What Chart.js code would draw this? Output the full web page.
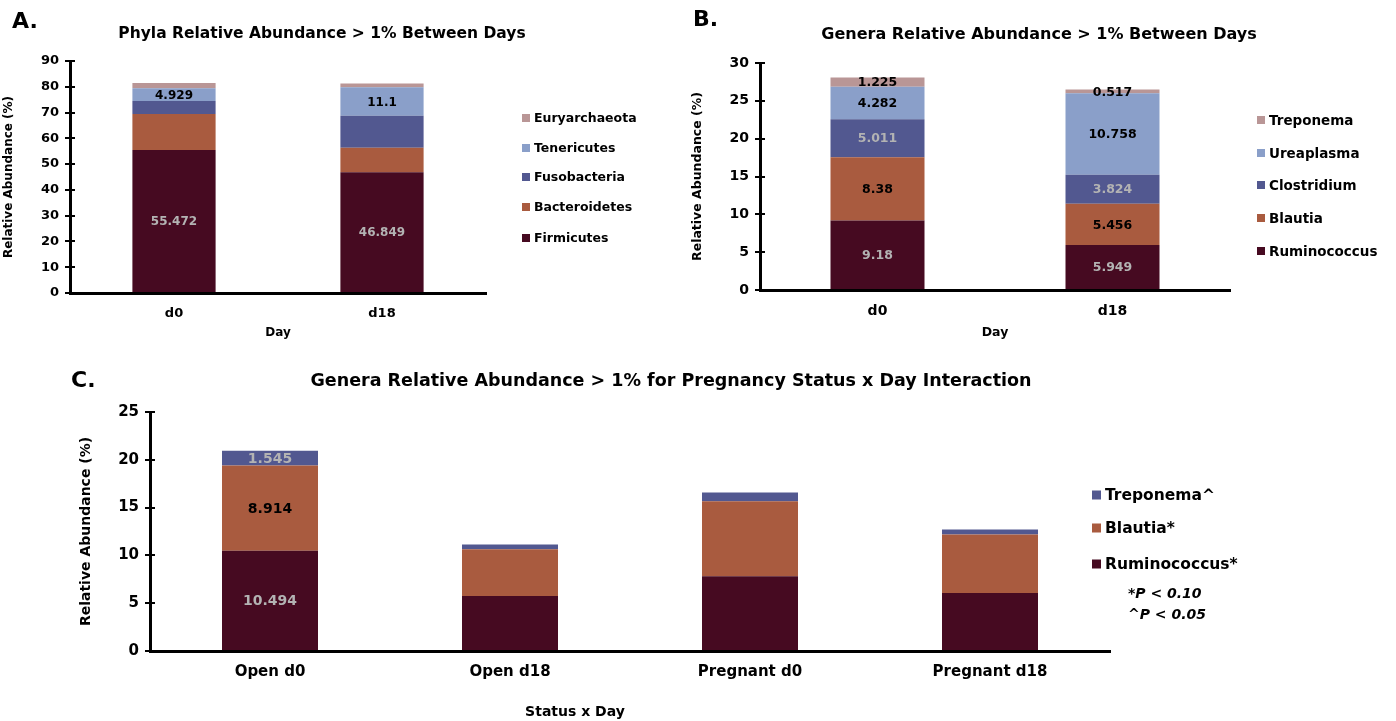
<!DOCTYPE html>
<html>
<head>
<meta charset="utf-8">
<script src="https://cdn.jsdelivr.net/npm/chart.js@4.4.1/dist/chart.umd.min.js"></script>
<style>
  body { margin: 0; background: #fff; width: 1396px; height: 721px; overflow: hidden; position: relative; }
  canvas { position: absolute; }
</style>
</head>
<body>
<canvas id="chart-a" width="690" height="345" style="left:0;top:0"></canvas>
<canvas id="chart-b" width="706" height="345" style="left:690px;top:0"></canvas>
<canvas id="chart-c" width="1396" height="376" style="left:0;top:345px"></canvas>
<script>
// panel A - phyla
const days = ['d0', 'd18'];
const firmicutes = [55.472, 46.849];
const bacteroidetes = [14.0, 9.5];
const fusobacteria = [5.0, 12.4];
const tenericutes = [4.929, 11.1];
const euryarchaeota = [2.1, 1.4];

// panel B - genera
const ruminococcusB = [9.18, 5.949];
const blautiaB = [8.38, 5.456];
const clostridiumB = [5.011, 3.824];
const ureaplasmaB = [4.282, 10.758];
const treponemaB = [1.225, 0.517];

// panel C - status x day
const statusDay = ['Open d0', 'Open d18', 'Pregnant d0', 'Pregnant d18'];
const ruminococcusC = [10.494, 5.75, 7.81, 6.07];
const blautiaC = [8.914, 4.89, 7.85, 6.11];
const treponemaC = [1.545, 0.49, 0.91, 0.52];

const ticksA = [0, 90, 10];
const ticksB = [0, 30, 5];
const ticksC = [0, 25, 5];

const MAROON = '#460a21';
const RUST = '#a95b3f';
const SLATE = '#525890';
const SKY = '#8a9fc9';
const MAUVE = '#b99696';
const GREY = '#b3b3b3';
const FONT = "'DejaVu Sans', sans-serif";

// draws the value inside each bar segment that has a label colour
const segmentLabels = {
  id: 'segmentLabels',
  afterDatasetsDraw(chart) {
    const ctx = chart.ctx;
    const size = chart.options.plugins.segmentLabels.size;
    ctx.save();
    ctx.font = 'bold ' + size + 'px ' + FONT;
    ctx.textAlign = 'center';
    ctx.textBaseline = 'middle';
    chart.data.datasets.forEach((ds, i) => {
      if (!ds.labelColors) return;
      const meta = chart.getDatasetMeta(i);
      meta.data.forEach((bar, j) => {
        const col = ds.labelColors[j];
        if (!col) return;
        ctx.fillStyle = col;
        ctx.fillText(String(ds.data[j]), bar.x, (bar.y + bar.base) / 2 + 1);
      });
    });
    ctx.restore();
  }
};

// panel letter, title, legend and notes
const overlay = {
  id: 'overlay',
  afterDraw(chart) {
    const o = chart.options.plugins.overlay;
    const ctx = chart.ctx;
    ctx.save();
    ctx.fillStyle = '#000';
    ctx.textBaseline = 'middle';
    ctx.textAlign = 'left';
    ctx.font = 'bold ' + o.letter.size + 'px ' + FONT;
    ctx.fillText(o.letter.text, o.letter.x, o.letter.y);
    ctx.textAlign = 'center';
    ctx.font = 'bold ' + o.title.size + 'px ' + FONT;
    ctx.fillText(o.title.text, o.title.x, o.title.y);

    const lg = o.legend;
    ctx.textAlign = 'left';
    ctx.font = 'bold ' + lg.size + 'px ' + FONT;
    const sets = chart.data.datasets.slice().reverse();
    sets.forEach((ds, k) => {
      const y = lg.ys[k];
      ctx.fillStyle = ds.backgroundColor;
      ctx.fillRect(lg.x, y - lg.box / 2, lg.box, lg.box);
      ctx.fillStyle = '#000';
      ctx.fillText(ds.label, lg.x + lg.box + 4, y + 1);
    });

    (o.texts || []).forEach(t => {
      ctx.font = t.font + ' ' + t.size + 'px ' + FONT;
      ctx.textAlign = t.align || 'left';
      ctx.fillText(t.text, t.x, t.y);
    });

    // short tick stubs on the inner side of the y axis, like the original
    const ys = chart.scales.y;
    ctx.strokeStyle = '#000';
    ctx.lineWidth = 2;
    ys.ticks.forEach(t => {
      const py = Math.round(ys.getPixelForValue(t.value));
      ctx.beginPath();
      ctx.moveTo(ys.right, py);
      ctx.lineTo(ys.right + 5, py);
      ctx.stroke();
    });
    ctx.restore();
  }
};

function makeScales(yTicks, yWidth, xHeight, tickSize, titleSize, yTitlePad, xTitle, xTitlePad, xPad) {
  return {
    x: {
      stacked: true,
      grid: { display: false },
      border: { display: true, color: '#000', width: 3 },
      ticks: { color: '#000', padding: xPad, font: { family: FONT, size: tickSize, weight: 'bold' } },
      title: {
        display: !!xTitle, text: xTitle, color: '#000', padding: { top: 0, bottom: xTitlePad },
        font: { family: FONT, size: titleSize, weight: 'bold' }
      },
      afterFit: s => { s.height = xHeight; }
    },
    y: {
      stacked: true,
      min: yTicks[0], max: yTicks[1],
      grid: { drawOnChartArea: false, color: '#000', lineWidth: 2, tickLength: 5 },
      border: { display: true, color: '#000', width: 3 },
      ticks: {
        stepSize: yTicks[2], color: '#000', padding: 6,
        font: { family: FONT, size: tickSize, weight: 'bold' }
      },
      title: {
        display: true, text: 'Relative Abundance (%)', color: '#000',
        padding: { top: yTitlePad, bottom: 0 },
        font: { family: FONT, size: titleSize, weight: 'bold' }
      },
      afterFit: s => { s.width = yWidth; }
    }
  };
}

function series(label, data, color, labelColors) {
  return {
    label, data, backgroundColor: color, labelColors,
    barPercentage: 0.4, categoryPercentage: 1, borderWidth: 0
  };
}

new Chart(document.getElementById('chart-a'), {
  type: 'bar',
  data: {
    labels: days,
    datasets: [
      series('Firmicutes', firmicutes, MAROON, [GREY, GREY]),
      series('Bacteroidetes', bacteroidetes, RUST),
      series('Fusobacteria', fusobacteria, SLATE),
      series('Tenericutes', tenericutes, SKY, ['#000', '#000']),
      series('Euryarchaeota', euryarchaeota, MAUVE)
    ]
  },
  options: {
    responsive: false,
    animation: false,
    layout: { padding: { left: 0, top: 61, right: 204, bottom: 0 } },
    scales: makeScales(ticksA, 70, 52, 13, 12, 2, 'Day', 5, 5),
    plugins: {
      legend: { display: false },
      tooltip: { enabled: false },
      segmentLabels: { size: 12 },
      overlay: {
        letter: { text: 'A.', x: 12, y: 22, size: 22 },
        title: { text: 'Phyla Relative Abundance > 1% Between Days', x: 322, y: 34, size: 15.5 },
        legend: { x: 522, box: 8, size: 12.5, ys: [118, 148, 177, 207, 238] }
      }
    }
  },
  plugins: [segmentLabels, overlay]
});

new Chart(document.getElementById('chart-b'), {
  type: 'bar',
  data: {
    labels: days,
    datasets: [
      series('Ruminococcus', ruminococcusB, MAROON, [GREY, GREY]),
      series('Blautia', blautiaB, RUST, ['#000', '#000']),
      series('Clostridium', clostridiumB, SLATE, [GREY, GREY]),
      series('Ureaplasma', ureaplasmaB, SKY, ['#000', '#000']),
      series('Treponema', treponemaB, MAUVE, ['#000', '#000'])
    ]
  },
  options: {
    responsive: false,
    animation: false,
    layout: { padding: { left: 0, top: 63, right: 166, bottom: 0 } },
    scales: makeScales(ticksB, 70, 55, 14, 12.5, 0, 'Day', 5, 5),
    plugins: {
      legend: { display: false },
      tooltip: { enabled: false },
      segmentLabels: { size: 12.5 },
      overlay: {
        letter: { text: 'B.', x: 3, y: 20, size: 22 },
        title: { text: 'Genera Relative Abundance > 1% Between Days', x: 349, y: 35, size: 16 },
        legend: { x: 567, box: 8, size: 13.5, ys: [120, 153, 185, 218, 251] }
      }
    }
  },
  plugins: [segmentLabels, overlay]
});

new Chart(document.getElementById('chart-c'), {
  type: 'bar',
  data: {
    labels: statusDay,
    datasets: [
      series('Ruminococcus*', ruminococcusC, MAROON, [GREY]),
      series('Blautia*', blautiaC, RUST, ['#000']),
      series('Treponema^', treponemaC, SLATE, [GREY])
    ]
  },
  options: {
    responsive: false,
    animation: false,
    layout: { padding: { left: 77, top: 67, right: 286, bottom: 0 } },
    scales: makeScales(ticksC, 73, 70, 15, 14, 1, '', 0, 4),
    plugins: {
      legend: { display: false },
      tooltip: { enabled: false },
      segmentLabels: { size: 14 },
      overlay: {
        letter: { text: 'C.', x: 71, y: 36, size: 22 },
        title: { text: 'Genera Relative Abundance > 1% for Pregnancy Status x Day Interaction', x: 671, y: 36, size: 17.5 },
        legend: { x: 1092, box: 9, size: 15.5, ys: [150, 183, 219] },
        texts: [
          { text: 'Status x Day', x: 575, y: 367, size: 14, font: 'bold', align: 'center' },
          { text: '*P < 0.10', x: 1128, y: 249, size: 14, font: 'italic bold' },
          { text: '^P < 0.05', x: 1128, y: 270, size: 14, font: 'italic bold' }
        ]
      }
    }
  },
  plugins: [segmentLabels, overlay]
});
</script>
</body>
</html>
